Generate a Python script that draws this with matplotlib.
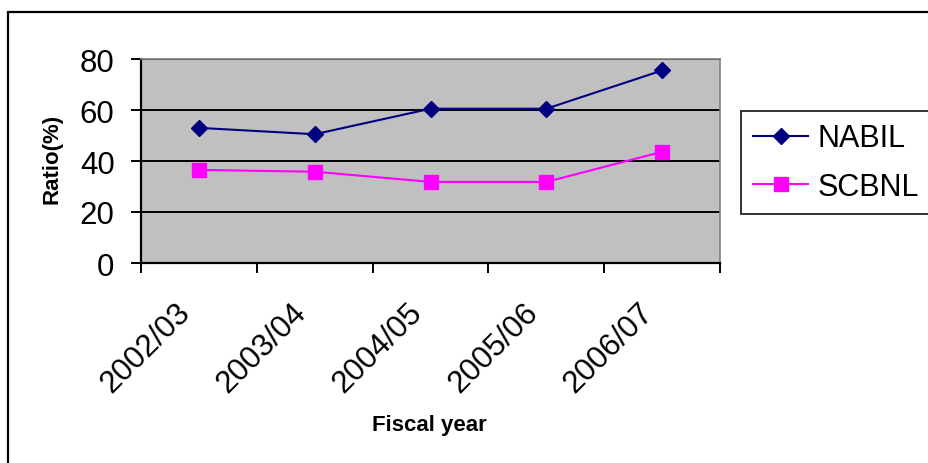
import matplotlib
matplotlib.use("Agg")
import matplotlib.pyplot as plt
import matplotlib.transforms as mtransforms
from matplotlib.patches import Rectangle
from matplotlib.lines import Line2D

plt.rcParams['font.family'] = ['Liberation Sans', 'DejaVu Sans']

years = ["2002/03", "2003/04", "2004/05", "2005/06", "2006/07"]
nabil = [53.0, 50.5, 60.5, 60.5, 75.5]
scbnl = [36.5, 35.8, 31.8, 31.8, 43.6]

W, H = 929, 464
fig = plt.figure(figsize=(W / 100, H / 100), dpi=100)

# outer chart frame
fig.patches.append(Rectangle((8 / W, -0.1), 1.2, 1 - 13 / H + 0.1,
                             transform=fig.transFigure, fill=False,
                             edgecolor='black', linewidth=1.6))

ax = fig.add_axes([141 / W, 1 - 264 / H, (720 - 141) / W, (264 - 60) / H])
ax.set_facecolor('#C0C0C0')

x = list(range(len(years)))
ax.plot(x, nabil, color='#000080', marker='D', markersize=8, linewidth=1.5,
        label='NABIL', zorder=3)
ax.plot(x, scbnl, color='#FF00FF', marker='s', markersize=10, linewidth=1.5,
        label='SCBNL', zorder=3)

ax.set_xlim(-0.5, len(years) - 0.5)
ax.set_ylim(0, 80)
ax.set_yticks([0, 20, 40, 60, 80])
ax.yaxis.grid(True, color='black', linewidth=1.4)
ax.set_axisbelow(True)

# category labels between boundary ticks
ax.set_xticks([i - 0.5 for i in range(len(years) + 1)])
ax.set_xticklabels([])
ax.set_xticks(x, minor=True)
ax.set_xticklabels(years, minor=True, rotation=45, ha='right', va='center',
                   rotation_mode='anchor', fontsize=22.5)
ax.tick_params(axis='x', which='minor', length=0, pad=32)
ax.tick_params(axis='x', which='major', length=7, width=1.4, direction='out')
ax.tick_params(axis='y', length=7, width=1.4, direction='out', labelsize=22.5, pad=12)

shift = mtransforms.ScaledTranslation(-13 / 100, 0, fig.dpi_scale_trans)
for lbl in ax.get_xticklabels(minor=True):
    lbl.set_transform(lbl.get_transform() + shift)

for side in ('top', 'right'):
    ax.spines[side].set_color('#808080')
    ax.spines[side].set_linewidth(1.2)
for side in ('left', 'bottom'):
    ax.spines[side].set_color('black')
    ax.spines[side].set_linewidth(1.6)

fig.text(52 / W, 1 - 159 / H, 'Ratio(%)', rotation=90, ha='center', va='center',
         fontsize=16, fontweight='bold')
fig.text(429 / W, 1 - 426 / H, 'Fiscal year', ha='center', va='center',
         fontsize=16, fontweight='bold')

handles = [Line2D([], [], color='#000080', marker='D', markersize=8, linewidth=1.5),
           Line2D([], [], color='#FF00FF', marker='s', markersize=10, linewidth=1.5)]
leg = fig.legend(handles, ['NABIL', 'SCBNL'], loc='upper left',
                 bbox_to_anchor=(741 / W, 1 - 112 / H), fontsize=22,
                 frameon=True, fancybox=False, edgecolor='black',
                 handlelength=1.8, handletextpad=0.3, borderpad=0.4,
                 labelspacing=0.62, borderaxespad=0)
leg.get_frame().set_linewidth(1.4)

fig.savefig('out.png', dpi=100)
